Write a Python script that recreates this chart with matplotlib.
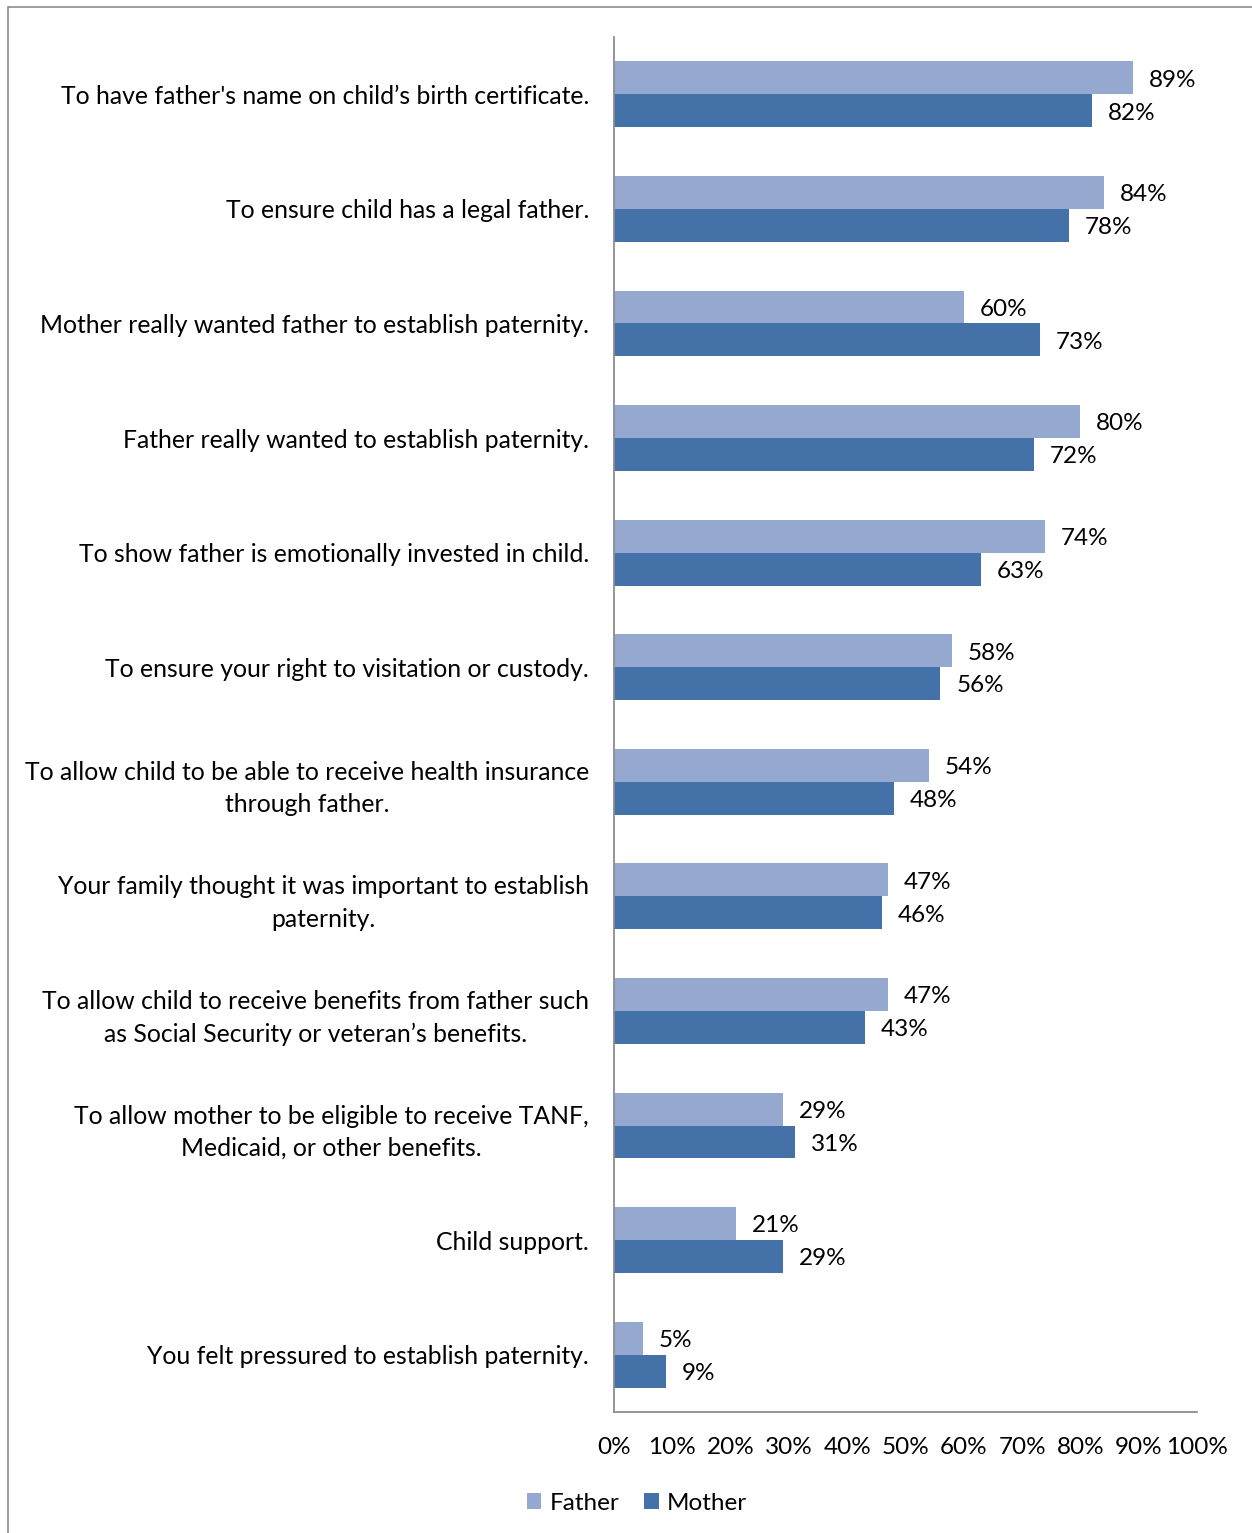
import matplotlib.pyplot as plt
import numpy as np
from matplotlib.patches import Rectangle

plt.rcParams['font.family'] = ['Lato', 'DejaVu Sans']

reasons = [
    "To have father's name on child\u2019s birth certificate.",
    "To ensure child has a legal father.",
    "Mother really wanted father to establish paternity.",
    "Father really wanted to establish paternity.",
    "To show father is emotionally invested in child.",
    "To ensure your right to visitation or custody.",
    "To allow child to be able to receive health insurance\nthrough father.",
    "Your family thought it was important to establish\npaternity.",
    "To allow child to receive benefits from father such\nas Social Security or veteran\u2019s benefits.",
    "To allow mother to be eligible to receive TANF,\nMedicaid, or other benefits.",
    "Child support.",
    "You felt pressured to establish paternity.",
]
father = [89, 84, 60, 80, 74, 58, 54, 47, 47, 29, 21, 5]
mother = [82, 78, 73, 72, 63, 56, 48, 46, 43, 31, 29, 9]

father_color = '#95A9D0'
mother_color = '#4472A8'

W, H = 1252, 1533
fig = plt.figure(figsize=(W / 100, H / 100), dpi=100)
ax = fig.add_axes([614 / W, 1 - 1412 / H, (1197 - 614) / W, (1412 - 37) / H])

fs = 17.5
y = np.arange(len(reasons))
bh = 0.287
ax.barh(y - bh / 2, father, height=bh, color=father_color, label='Father')
ax.barh(y + bh / 2, mother, height=bh, color=mother_color, label='Mother')

# value labels right of each bar
for i in range(len(reasons)):
    ax.text(father[i] + 2.7, y[i] - bh / 2 + 0.02, f'{father[i]}%', va='center', ha='left', fontsize=fs)
    ax.text(mother[i] + 2.7, y[i] + bh / 2 + 0.02, f'{mother[i]}%', va='center', ha='left', fontsize=fs)

ax.set_ylim(len(reasons) - 0.5, -0.5)
ax.set_xlim(0, 100)
ax.set_xticks(range(0, 101, 10))
ax.set_xticklabels([f'{v}%' for v in range(0, 101, 10)], fontsize=fs)
ax.set_yticks(y)
ax.set_yticklabels(reasons, fontsize=17.8, multialignment='center', linespacing=1.5)
ax.tick_params(axis='y', length=0, pad=18)
ax.tick_params(axis='x', length=0, pad=18)

for s in ['top', 'right']:
    ax.spines[s].set_visible(False)
for s in ['left', 'bottom']:
    ax.spines[s].set_color('#8c8c8c')
    ax.spines[s].set_linewidth(1.3)

fig.legend(loc='center', bbox_to_anchor=(637 / W, 1 - 1503 / H), ncol=2, frameon=False,
           fontsize=fs, handlelength=0.6, handleheight=0.6, handletextpad=0.35,
           columnspacing=1.0)

# outer chart border (left and top edges visible)
fig.patches.append(Rectangle((8 / W, -0.05), 1.1, 1 - 7 / H + 0.05, transform=fig.transFigure,
                             fill=False, edgecolor='#8c8c8c', linewidth=1.2))

fig.savefig('out.png', dpi=100)
